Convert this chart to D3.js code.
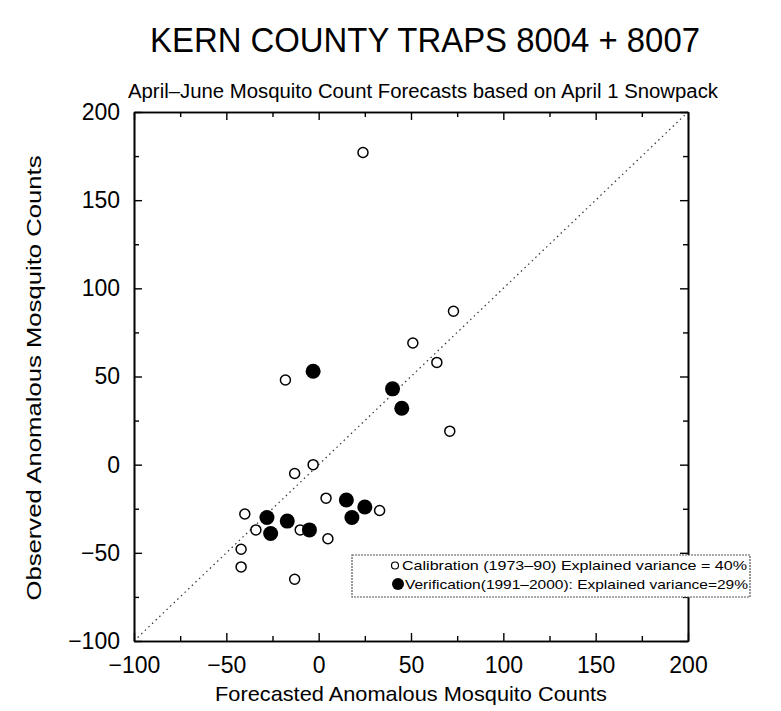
<!DOCTYPE html>
<html><head><meta charset="utf-8">
<script src="https://cdn.jsdelivr.net/npm/d3@7"></script>
<style>body{margin:0;background:#fff}svg{display:block}text{font-family:"Liberation Sans",Arial,sans-serif;fill:#000}</style>
</head><body><svg id="c" width="781" height="711"></svg>
<script>
// Calibration (1973-90): [forecast, observed]
const calibX = [24, 73, 51, 64, -18, 71, -3, -13, 4, 33, -40, -34, -10, 5, -42, -42, -13];
const calibY = [177, 87, 69, 58, 48, 19, 0, -5, -19, -26, -28, -37, -37, -42, -48, -58, -65];
// Verification (1991-2000)
const verifX = [-3, 40, 45, 15, 25, 18, -28, -17, -26, -5];
const verifY = [53, 43, 32, -20, -24, -30, -30, -32, -39, -37];
const majorTicks = [-100, -50, 0, 50, 100, 150, 200];
const minorTicks = [-75, -25, 25, 75, 125, 175];
const title = "KERN COUNTY TRAPS 8004 + 8007";
const subtitle = "April\u2013June Mosquito Count Forecasts based on April 1 Snowpack";
const xLabel = "Forecasted Anomalous Mosquito Counts";
const yLabel = "Observed Anomalous Mosquito Counts";
const legend1 = "Calibration (1973\u201390)  Explained variance = 40%";
const legend2 = "Verification(1991\u20132000): Explained variance=29%";

const svg = d3.select("#c");
const x = d3.scaleLinear().domain([-100, 200]).range([134, 688]);
const y = d3.scaleLinear().domain([-100, 200]).range([641, 112]);
const FF = '"Liberation Sans",Arial,sans-serif';

svg.append("text").attr("x", 425).attr("y", 52).attr("text-anchor", "middle")
  .attr("font-size", 35).attr("textLength", 550).attr("lengthAdjust", "spacingAndGlyphs").text(title);
svg.append("text").attr("x", 423).attr("y", 98).attr("text-anchor", "middle")
  .attr("font-size", 19.5).attr("textLength", 590).attr("lengthAdjust", "spacingAndGlyphs").text(subtitle);

// diagonal
svg.append("line").attr("x1", x(-100)).attr("y1", y(-100)).attr("x2", x(200)).attr("y2", y(200))
  .attr("stroke", "#333").attr("stroke-width", 1.2).attr("stroke-dasharray", "1.5,3.5");

const fmt = d => d < 0 ? "\u2212" + Math.abs(d) : d;
function axis(fn, tr, vals, size, pad, f) {
  svg.append("g").attr("transform", tr)
    .call(fn.tickValues(vals).tickSizeInner(-size).tickSizeOuter(0).tickPadding(pad).tickFormat(f));
}
const none = () => "";
axis(d3.axisBottom(x), `translate(0,${y(-100)})`, majorTicks, 8, 16, fmt);
axis(d3.axisBottom(x), `translate(0,${y(-100)})`, minorTicks, 5, 0, none);
axis(d3.axisLeft(y), `translate(${x(-100)},0)`, majorTicks, 8, 14, fmt);
axis(d3.axisLeft(y), `translate(${x(-100)},0)`, minorTicks, 5, 0, none);
axis(d3.axisTop(x), `translate(0,${y(200)})`, majorTicks, 8, 0, none);
axis(d3.axisTop(x), `translate(0,${y(200)})`, minorTicks, 5, 0, none);
axis(d3.axisRight(y), `translate(${x(200)},0)`, majorTicks, 8, 0, none);
axis(d3.axisRight(y), `translate(${x(200)},0)`, minorTicks, 5, 0, none);
svg.selectAll(".domain").attr("stroke-width", 1.6).attr("stroke", "#000");
svg.selectAll(".tick line").attr("stroke-width", 1.4).attr("stroke", "#000");
svg.selectAll(".tick text").attr("font-size", 23).style("font-family", FF).attr("fill", "#000");

// axis titles
svg.append("text").attr("x", 411).attr("y", 701).attr("text-anchor", "middle")
  .attr("font-size", 21).attr("textLength", 392).attr("lengthAdjust", "spacingAndGlyphs").text(xLabel);
svg.append("text").attr("transform", "translate(41,378) rotate(-90)").attr("text-anchor", "middle")
  .attr("font-size", 21).attr("textLength", 445).attr("lengthAdjust", "spacingAndGlyphs").text(yLabel);

// points
svg.append("g").selectAll("circle").data(calibX.map((d, i) => [d, calibY[i]])).join("circle")
  .attr("cx", d => x(d[0])).attr("cy", d => y(d[1])).attr("r", 5)
  .attr("fill", "#fff").attr("stroke", "#000").attr("stroke-width", 1.5);
svg.append("g").selectAll("circle").data(verifX.map((d, i) => [d, verifY[i]])).join("circle")
  .attr("cx", d => x(d[0])).attr("cy", d => y(d[1])).attr("r", 7.5)
  .attr("fill", "#000");

// legend
const lg = svg.append("g");
lg.append("rect").attr("x", 352).attr("y", 555).attr("width", 398).attr("height", 42)
  .attr("fill", "#fff").attr("stroke", "#555").attr("stroke-width", 1.2).attr("stroke-dasharray", "2,1");
lg.append("text").attr("x", 402).attr("y", 570).attr("font-size", 13)
  .attr("textLength", 345).attr("lengthAdjust", "spacingAndGlyphs").text(legend1);
lg.append("text").attr("x", 405).attr("y", 589).attr("font-size", 13)
  .attr("textLength", 343).attr("lengthAdjust", "spacingAndGlyphs").text(legend2);
lg.append("circle").attr("cx", 395).attr("cy", 565.5).attr("r", 3.5).attr("fill", "#fff").attr("stroke", "#000").attr("stroke-width", 1.2);
lg.append("circle").attr("cx", 398).attr("cy", 584).attr("r", 6).attr("fill", "#000");
</script></body></html>
